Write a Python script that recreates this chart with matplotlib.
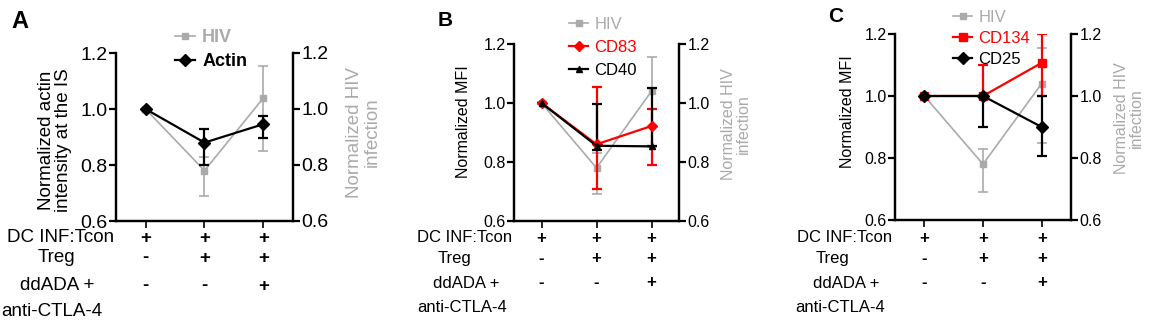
import matplotlib.pyplot as plt
from matplotlib.lines import Line2D
import numpy as np

plt.rcParams['font.family'] = ['Liberation Sans', 'DejaVu Sans']

W, H = 1158, 323

# conditions (three columns) and the table below the x axis
conditions = [0, 1, 2]
row_labels = ["DC INF:Tcon", "Treg", "ddADA +", "anti-CTLA-4"]
row_signs = [["+", "+", "+"],
             ["-", "+", "+"],
             ["-", "-", "+"]]

# HIV infection (right axis), shared by all panels
hiv_mean = [1.00, 0.78, 1.04]
hiv_lo = [1.00, 0.69, 0.85]
hiv_hi = [1.00, 0.83, 1.155]

# panel A: actin at the IS
actin_mean = [1.00, 0.88, 0.946]
actin_lo = [1.00, 0.80, 0.898]
actin_hi = [1.00, 0.93, 0.976]

# panel B: CD83 / CD40
cd83_mean = [1.00, 0.86, 0.922]
cd83_lo = [1.00, 0.71, 0.79]
cd83_hi = [1.00, 1.053, 0.98]
cd40_mean = [1.00, 0.855, 0.853]
cd40_lo = [1.00, 0.84, 0.853]
cd40_hi = [1.00, 0.995, 1.05]

# panel C: CD134 / CD25
cd134_mean = [1.00, 1.00, 1.107]
cd134_lo = [1.00, 1.00, 1.00]
cd134_hi = [1.00, 1.10, 1.20]
cd25_mean = [1.00, 1.00, 0.90]
cd25_lo = [1.00, 0.90, 0.806]
cd25_hi = [1.00, 1.00, 1.00]

GREY = "#aaaaaa"
RED = "#ff0000"


def fx(px):
    return px / W


def fy(py):
    return 1 - py / H


def err(mean, lo, hi):
    mean = np.array(mean)
    return [mean - np.array(lo), np.array(hi) - mean]


fig = plt.figure(figsize=(W / 100, H / 100), dpi=100)

# label_x: centre of the first three row labels, left edge of "anti-CTLA-4"
panels = [
    dict(letter="A", box=(116, 53, 293, 221), letter_xy=(20, 21), letter_fs=17,
         ylabel="Normalized actin\nintensity at the IS", ylab_xy=(55, 140), rlab_xy=(363, 132),
         leg_xy=(166, 20), leg_space=0.38, leg_bold=True, leg_fs=13,
         fs_tick=14, fs_lab=13.5, fs_row=13.5,
         label_x=[61, 56, 57, 1], rows_y=[238, 258, 286, 312],
         series=[("Actin", actin_mean, actin_lo, actin_hi, "black", "D", 6.5)]),
    dict(letter="B", box=(514, 44, 679, 221), letter_xy=(445, 21), letter_fs=15,
         ylabel="Normalized MFI", ylab_xy=(464, 122), rlab_xy=(736, 124),
         leg_xy=(561, 9), leg_space=0.48, leg_bold=False, leg_fs=12,
         fs_tick=11.5, fs_lab=11.5, fs_row=12,
         label_x=[465, 454, 466, 417], rows_y=[238, 258, 283, 308],
         series=[("CD83", cd83_mean, cd83_lo, cd83_hi, RED, "D", 5.5),
                 ("CD40", cd40_mean, cd40_lo, cd40_hi, "black", "^", 5)]),
    dict(letter="C", box=(895, 34, 1071, 220), letter_xy=(836, 16), letter_fs=15,
         ylabel="Normalized MFI", ylab_xy=(847, 112), rlab_xy=(1129, 118),
         leg_xy=(945, 2), leg_space=0.35, leg_bold=False, leg_fs=12,
         fs_tick=11.5, fs_lab=11.5, fs_row=12,
         label_x=[845, 833, 846, 795], rows_y=[238, 258, 283, 308],
         series=[("CD134", cd134_mean, cd134_lo, cd134_hi, RED, "s", 5.5),
                 ("CD25", cd25_mean, cd25_lo, cd25_hi, "black", "D", 6.5)]),
]

for p in panels:
    x0, y0, x1, y1 = p["box"]
    ax = fig.add_axes([fx(x0), fy(y1), fx(x1) - fx(x0), (y1 - y0) / H])
    twin = ax.twinx()

    # HIV on the right axis, drawn underneath
    twin.errorbar(conditions, hiv_mean, yerr=err(hiv_mean, hiv_lo, hiv_hi),
                  color=GREY, marker="s", markersize=4.5, lw=1.2,
                  elinewidth=1.2, capsize=3.5, capthick=1.2)
    handles = [Line2D([], [], color=GREY, marker="s", markersize=4.5, lw=1.2)]
    labels = ["HIV"]
    colors = [GREY]
    for name, m, lo, hi, col, mk, ms in p["series"]:
        ax.errorbar(conditions, m, yerr=err(m, lo, hi), color=col, marker=mk,
                    markersize=ms, lw=1.6, elinewidth=1.6, capsize=3.5,
                    capthick=1.6)
        handles.append(Line2D([], [], color=col, marker=mk, markersize=ms, lw=1.6))
        labels.append(name)
        colors.append(col)

    ax.set_zorder(twin.get_zorder() + 1)
    ax.patch.set_visible(False)

    for a in (ax, twin):
        a.set_xlim(-0.5, 2.5)
        a.set_ylim(0.6, 1.2)
        a.set_yticks([0.6, 0.8, 1.0, 1.2])
        a.set_yticklabels(["0.6", "0.8", "1.0", "1.2"])
        a.spines["top"].set_visible(False)
        for s in ("left", "right", "bottom"):
            a.spines[s].set_linewidth(1.6)
        a.tick_params(axis="y", length=5, width=1.6, labelsize=p["fs_tick"], pad=1)
        a.tick_params(axis="x", length=5, width=1.2, labelbottom=False)
        a.set_xticks(conditions)

    # y labels
    fig.text(fx(p["ylab_xy"][0]), fy(p["ylab_xy"][1]), p["ylabel"], rotation=90,
             ha="center", va="center", fontsize=p["fs_lab"], linespacing=1.05)
    fig.text(fx(p["rlab_xy"][0]), fy(p["rlab_xy"][1]), "Normalized HIV\ninfection",
             rotation=90, ha="center", va="center", fontsize=p["fs_lab"], color=GREY,
             linespacing=1.05)

    # panel letter
    fig.text(fx(p["letter_xy"][0]), fy(p["letter_xy"][1]), p["letter"],
             fontsize=p["letter_fs"], fontweight="bold", ha="center", va="center")

    # legend
    leg = fig.legend(handles=handles, labels=labels, loc="upper left",
                     bbox_to_anchor=(fx(p["leg_xy"][0]), fy(p["leg_xy"][1])),
                     frameon=False, borderpad=0, handlelength=1.1,
                     handletextpad=0.4, labelspacing=p["leg_space"],
                     prop={"size": p["leg_fs"],
                           "weight": "bold" if p["leg_bold"] else "normal"})
    for t, c in zip(leg.get_texts(), colors):
        t.set_color(c)

    # condition table below the axis
    trans = ax.get_xaxis_transform()
    for i, lab in enumerate(row_labels):
        fig.text(fx(p["label_x"][i]), fy(p["rows_y"][i]), lab, fontsize=p["fs_row"],
                 ha="left" if i == 3 else "center", va="center")
    for i, signs in enumerate(row_signs):
        yfig = fy(p["rows_y"][i])
        yax = (yfig - fy(y1)) / ((y1 - y0) / H)
        for c, s in zip(conditions, signs):
            ax.text(c, yax, s, transform=trans, ha="center", va="center",
                    fontsize=p["fs_row"], fontweight="bold", clip_on=False)

fig.savefig("out.png", dpi=100)
